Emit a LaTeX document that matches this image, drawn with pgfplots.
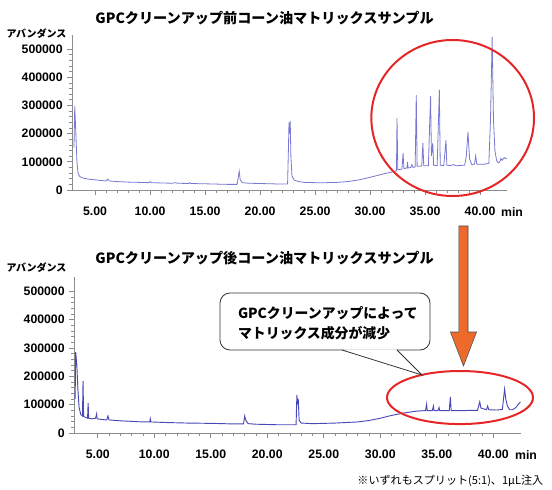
\documentclass[border=0pt]{standalone}
\usepackage{fontspec}
\setmainfont{Liberation Sans}
\newfontfamily\jp{Noto Sans CJK JP}
\usepackage{pgfplots}
\pgfplotsset{compat=1.18}
\definecolor{trace1}{RGB}{120,120,208}
\definecolor{trace2}{RGB}{72,72,185}
\definecolor{axgray}{RGB}{140,140,140}
\definecolor{redc}{RGB}{230,38,38}
\definecolor{orng}{RGB}{238,106,42}
\pgfplotsset{chrom/.style={
  scale only axis, xmin=2.9, xmax=42.45, ymin=0, ymax=550000,
  axis x line*=bottom, axis y line*=left,
  axis line style={axgray, line width=0.6pt},
  xtick={5,10,...,40}, minor x tick num=4,
  ytick={0,100000,...,500000}, minor y tick num=4,
  tick align=outside, tick style={axgray, line width=0.5pt},
  major tick length=3.5pt, minor tick length=2pt,
  scaled y ticks=false,
  xticklabel style={/pgf/number format/.cd, fixed, fixed zerofill, precision=2},
  yticklabel style={/pgf/number format/.cd, fixed, 1000 sep={}},
  /pgf/number format/assume math mode=true,
  tick label style={font=\fontsize{9.2}{10}\selectfont\bfseries},
  xticklabel shift=6pt,
  anchor=south west,
  clip=false,
}}
\begin{document}
\begin{tikzpicture}
\useasboundingbox (0,0) rectangle (414pt,366.75pt);
% top chromatogram
\begin{axis}[chrom, at={(54pt,224.25pt)}, width=326.25pt, height=116.25pt]
\addplot[trace1, line width=0.6pt, mark=none] coordinates {
(3.08,150000) (3.15,298000) (3.25,200000) (3.35,100000) (3.45,60000) (3.6,48000) (3.9,42000) (4.5,38000) (5.5,34000) (6.0,32000) (6.15,38000) (6.3,32000) (7,30000) (8,28000) (9,27000) (9.9,26000) (10.0,30000) (10.1,26000) (11,25000) (12,24000) (12.3,26000) (12.5,24000) (13.5,23000) (13.6,26000) (13.7,23000) (15,22000) (16,21000) (17,20000) (17.9,20000) (18.0,40000) (18.1,67000) (18.2,35000) (18.4,26000) (19,24000) (20,23000) (21,22000) (22,21000) (22.5,21000) (22.58,150000) (22.63,240000) (22.68,200000) (22.74,245000) (22.8,120000) (22.9,50000) (23.1,35000) (23.5,30000) (24,27000) (25,26000) (26,26000) (27,27000) (28,30000) (28.5,33000) (29,36000) (30,45000) (31,55000) (32,64000) (32.4,68000) (32.45,255000) (32.52,72000) (32.9,74000) (33.0,131000) (33.08,76000) (33.35,78000) (33.4,100000) (33.46,78000) (33.7,80000) (33.8,90000) (33.9,80000) (34.1,82000) (34.2,337000) (34.28,84000) (34.5,84000) (34.7,86000) (34.8,167000) (34.88,86000) (35.3,86000) (35.5,334000) (35.58,120000) (35.7,167000) (35.78,88000) (36.1,86000) (36.3,355000) (36.38,88000) (36.7,86000) (36.9,177000) (36.98,88000) (37.3,87000) (37.6,90000) (37.8,86000) (38.2,87000) (38.6,88000) (38.75,120000) (38.9,206000) (39.05,110000) (39.25,90000) (39.5,92000) (39.6,121000) (39.7,92000) (40.0,91000) (40.5,92000) (40.8,95000) (40.95,250000) (41.1,543000) (41.22,250000) (41.35,140000) (41.5,105000) (41.65,96000) (41.8,100000) (41.9,112000) (42.0,105000) (42.1,110000) (42.2,115000) (42.3,112000) (42.45,113000)
};
\end{axis}
% bottom chromatogram
\begin{axis}[chrom, at={(55.5pt,42pt)}, width=335.25pt, height=117pt]
\addplot[trace2, line width=0.7pt, mark=none] coordinates {
(3.0,120000) (3.05,285000) (3.15,240000) (3.25,150000) (3.35,90000) (3.5,65000) (3.65,60000) (3.7,184000) (3.75,58000) (4.0,54000) (4.1,52000) (4.15,106000) (4.2,52000) (4.5,50000) (4.8,52000) (4.85,58000) (4.9,67000) (4.95,50000) (5.3,48000) (5.8,46000) (5.9,60000) (6.0,46000) (7,43000) (8,41000) (9,39000) (9.6,39000) (9.65,50000) (9.7,39000) (11,37000) (13,35000) (15,34000) (17,32000) (17.9,32000) (18.0,60000) (18.1,45000) (18.3,33000) (19,31000) (20,30000) (21,29000) (22,29000) (22.55,29000) (22.62,134000) (22.68,100000) (22.74,120000) (22.82,45000) (23.0,35000) (24,33000) (25,34000) (26,35000) (27,37000) (28,39000) (29,44000) (30,52000) (31,62000) (32,70000) (33,76000) (33.5,78000) (34.0,79000) (34.1,102000) (34.15,79000) (34.6,79000) (34.7,95000) (34.75,79000) (35.1,79000) (35.2,90000) (35.25,79000) (36.1,79000) (36.2,127000) (36.27,79000) (37.5,79000) (38.0,80000) (38.6,80000) (38.7,95000) (38.8,110000) (38.9,88000) (39.4,82000) (39.5,95000) (39.6,82000) (40.3,81000) (40.8,83000) (40.9,120000) (41.0,155000) (41.1,120000) (41.25,95000) (41.45,82000) (41.7,82000) (42.0,90000) (42.2,100000) (42.4,110000)
};
\end{axis}
% titles and labels
\node[font=\jp\bfseries\fontsize{10.6}{12}\selectfont] at (198.4pt,353.25pt) {GPCクリーンアップ前コーン油マトリックスサンプル};
\node[font=\jp\bfseries\fontsize{10.6}{12}\selectfont] at (198.4pt,173.25pt) {GPCクリーンアップ後コーン油マトリックスサンプル};
\node[font=\jp\bfseries\fontsize{7.5}{9}\selectfont] at (27.4pt,341.25pt) {アバンダンス};
\node[font=\jp\bfseries\fontsize{7.5}{9}\selectfont] at (27.4pt,165.75pt) {アバンダンス};
\node[font=\bfseries\fontsize{9.2}{10}\selectfont] at (384pt,207.75pt) {min};
\node[font=\bfseries\fontsize{9.2}{10}\selectfont] at (394.5pt,25.5pt) {min};
% red circle top
\draw[redc, line width=1.5pt] (339.5pt,278.25pt) ellipse [x radius=61pt, y radius=58.5pt];
% orange arrow
\filldraw[fill=orng, draw=black!70, line width=0.4pt]
  (344.2pt,197.25pt) -- (351pt,197.25pt) -- (351pt,117.75pt) -- (357.4pt,117.75pt)
  -- (347.6pt,92.25pt) -- (337.8pt,117.75pt) -- (344.2pt,117.75pt) -- cycle;
% bottom red ellipse
\draw[redc, line width=1.5pt] (345pt,68.6pt) ellipse [x radius=54.75pt, y radius=19.9pt];
% callout
\draw[black!80, line width=0.6pt, fill=white, rounded corners=7.5pt] (165pt,104.25pt) rectangle (322.5pt,147pt);
\fill[white] (257pt,104.8pt) -- (316.5pt,85.5pt) -- (297.2pt,104.8pt) -- cycle;
\draw[black!80, line width=0.6pt] (256.5pt,104.25pt) -- (316.5pt,85.5pt) -- (297.75pt,104.25pt);
\node[anchor=west, font=\jp\bfseries\fontsize{10.4}{12}\selectfont] at (175pt,132pt) {GPCクリーンアップによって};
\node[anchor=west, font=\jp\bfseries\fontsize{10.4}{12}\selectfont] at (175pt,116.5pt) {マトリックス成分が減少};
% footnote
\node[anchor=east, font=\jp\fontsize{8.3}{10}\selectfont] at (411pt,6pt) {※いずれもスプリット(5:1)、1μL注入};
\end{tikzpicture}
\end{document}
